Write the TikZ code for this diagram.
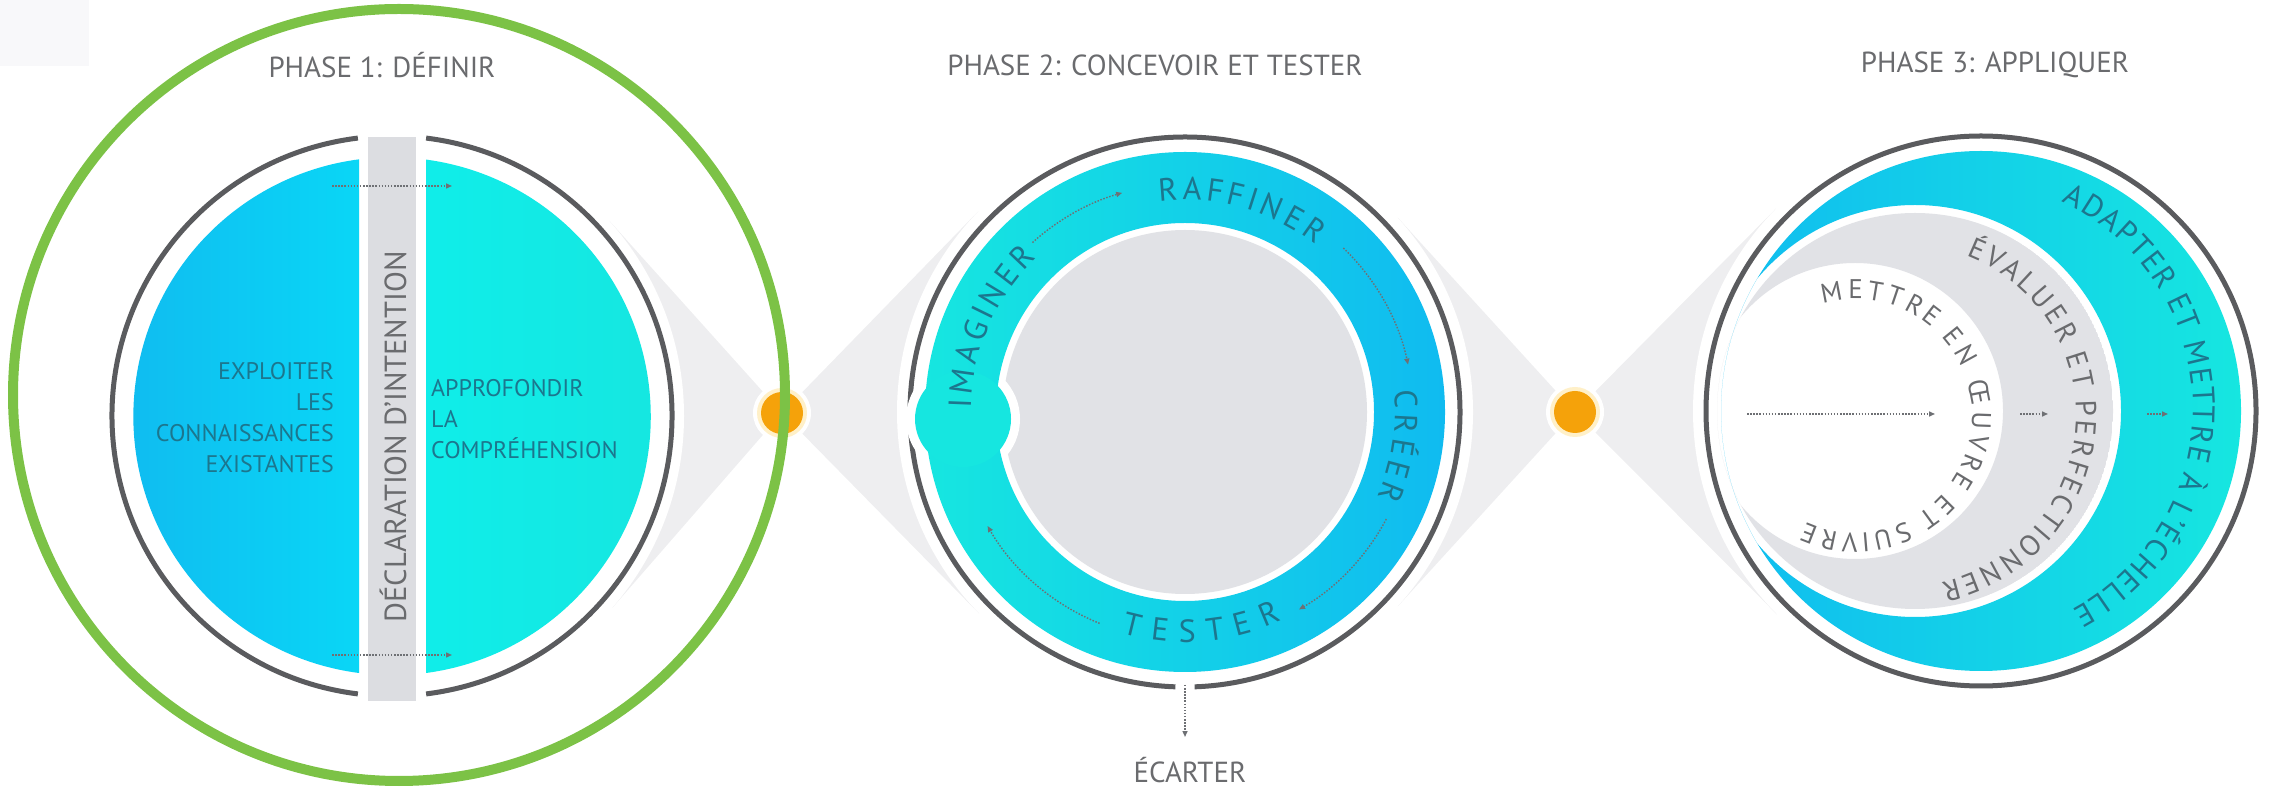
\documentclass[tikz,border=0pt]{standalone}
\usepackage{fontspec}
\setmainfont{PT Sans}
\usetikzlibrary{calc,arrows.meta,decorations.text}
\definecolor{ringgray}{RGB}{90,91,94}
\definecolor{stripgray}{RGB}{220,221,225}
\definecolor{discgray}{RGB}{225,226,230}
\definecolor{wedgegray}{RGB}{238,238,240}
\definecolor{boxgray}{RGB}{248,248,250}
\definecolor{titlegray}{RGB}{106,107,110}
\definecolor{arrowgray}{RGB}{110,112,116}
\definecolor{textteal}{RGB}{28,118,142}
\definecolor{cyanblue}{RGB}{16,187,240}
\definecolor{cyanturq}{RGB}{22,230,224}
\definecolor{dotorange}{RGB}{245,162,10}
\definecolor{dothalo}{RGB}{255,240,200}
\definecolor{framegreen}{RGB}{124,194,70}
\newcommand\titlefont{\fontsize{29}{34}\selectfont}
\newcommand\bandfont{\fontsize{32}{37}\selectfont}

\begin{document}
\begin{tikzpicture}[x=1pt,y=1pt,
    ring/.style={draw=ringgray,line width=5pt},
    dotarrow/.style={draw=arrowgray,line width=1.4pt,dash pattern=on 1.5pt off 1.6pt,
      -{Triangle[length=6pt,width=5pt]}},
    title/.style={text=titlegray,font=\titlefont,inner sep=0pt},
    bandtext/.style n args={3}{font=#1,decorate,decoration={text effects along path,text={#3},
      text effects/.cd,text along path,fit text to path,characters={text=#2,font=#1}}}]
    \useasboundingbox (0,0) rectangle (2272,787);
    % centres of the three phases and of the two orange dots
    \coordinate (c1) at (392,371);
    \coordinate (c2) at (1185,375);
    \coordinate (c3) at (1981,376);
    \coordinate (d1) at (782,374);
    \coordinate (d2) at (1575,375);

    \fill[boxgray] (0,721) rectangle (89,787);

    % white discs behind the rings, as nodes for the tangents
    \foreach \c/\r in {c1/292,c2/288,c3/288}
        \node[circle,minimum size={2*\r pt},inner sep=0pt] (w\c) at (\c) {};
    % grey cones from the dots
    \foreach \d/\c in {d1/c1,d1/c2,d2/c2,d2/c3}
        \fill[wedgegray] (\d) -- (tangent cs:node=w\c,point={(\d)},solution=1)
            -- (tangent cs:node=w\c,point={(\d)},solution=2) -- cycle;
    \foreach \c/\r in {c1/292,c2/288,c3/288}
        \fill[white] (\c) circle (\r);
    \foreach \d in {d1,d2}{
        \fill[white] (\d) circle (29);
        \fill[dothalo] (\d) circle (25);
        \fill[dotorange] (\d) circle (21);
    }

    % Phase 1
    \shade[left color=cyanblue,right color=cyanblue!60!cyan] ($(c1)+(-33,0)$) -- ($(c1)+(-33,-257)$)
        arc (-97.4:-262.6:259) -- cycle;
    \shade[left color=cyanturq!70!cyan,right color=cyanturq] ($(c1)+(34,0)$) -- ($(c1)+(34,-257)$)
        arc (-82.4:82.4:259) -- cycle;
    \draw[ring] ($(c1)+(83:280)$) arc (83:-83:280);
    \draw[ring] ($(c1)+(97:280)$) arc (97:263:280);
    \fill[stripgray] ($(c1)+(-24,-285)$) rectangle ($(c1)+(24,279)$);
    \node[rotate=90,text=titlegray,font=\fontsize{30.5}{35}\selectfont] (decl)
        at ($(c1)+(1,-21)$) {DÉCLARATION D’INTENTION};
    \node[anchor=east,align=right,text=textteal,inner sep=0pt,font=\fontsize{24}{31}\selectfont] (exploit)
        at ($(c1)+(-58,-2)$) {EXPLOITER\\LES\\CONNAISSANCES\\EXISTANTES};
    \node[anchor=west,align=left,text=textteal,inner sep=0pt,font=\fontsize{24}{31}\selectfont] (approf)
        at ($(c1)+(39,-3)$) {APPROFONDIR\\LA\\COMPRÉHENSION};
    \draw[dotarrow] ($(c1)+(-60,230)$) -- ($(c1)+(60,230)$);
    \draw[dotarrow] ($(c1)+(-60,-239)$) -- ($(c1)+(60,-239)$);
    \node[title] (t1) at (382,722) {PHASE 1: DÉFINIR};

    % Phase 2
    \coordinate (bub) at ($(c2)+(-222,-7)$);
    \draw[ring] ($(c2)+(-88:275)$) arc (-88:268:275);
    \fill[discgray] (c2) circle (182);
    \fill[white] (bub) circle (57);
    \shade[even odd rule,left color=cyanturq,right color=cyanblue] (c2) circle (260) (c2) circle (189);
    \fill[cyanturq] (bub) circle (48);
    \path[bandtext={\bandfont}{textteal}{IMAGINER}] ($(c2)+(179:214)$) arc (179:134:214);
    \path[bandtext={\bandfont}{textteal}{RAFFINER}] ($(c2)+(97:212)$) arc (97:52:212);
    \path[bandtext={\bandfont}{textteal}{CRÉER}] ($(c2)+(6:210)$) arc (6:-24:210);
    \path[bandtext={\bandfont}{textteal}{TESTER}] ($(c2)+(-106:230)$) arc (-106:-65:230);
    \draw[dotarrow] ($(c2)+(132:228)$) arc (132:106:228);
    \draw[dotarrow] ($(c2)+(46:228)$) arc (46:12:228);
    \draw[dotarrow] ($(c2)+(-28:228)$) arc (-28:-60:228);
    \draw[dotarrow] ($(c2)+(-112:228)$) arc (-112:-150:228);
    \node[title] (t2) at (1155,722) {PHASE 2: CONCEVOIR ET TESTER};
    \coordinate (gap2) at ($(c2)+(0,-273)$);
    \node[title] (ecarter) at (1190,17) {ÉCARTER};
    \draw[dotarrow,shorten >=20pt] (gap2) -- (gap2 |- ecarter.north);

    % Phase 3
    \draw[ring] (c3) circle (275);
    \begin{scope}
        \clip (c3) circle (260);
        \shade[even odd rule,left color=cyanblue,right color=cyanturq] (c3) circle (260) ($(c3)+(-66,0)$) circle (206);
    \end{scope}
    \begin{scope}
        \clip ($(c3)+(-66,0)$) circle (198);
        \fill[even odd rule,discgray] ($(c3)+(-66,0)$) circle (198) ($(c3)+(-126,0)$) circle (148);
    \end{scope}
    \path[bandtext={\fontsize{31}{35}\selectfont}{textteal}{ADAPTER ET METTRE À L’ÉCHELLE}]
        ($(c3)+(-16,3)+(65:228)$) arc (65:-62:228);
    \path[bandtext={\fontsize{29}{33}\selectfont}{titlegray}{ÉVALUER ET PERFECTIONNER}]
        ($(c3)+(-76,-4)+(69:171)$) arc (69:-78:171);
    \path[bandtext={\fontsize{27}{31}\selectfont}{titlegray}{METTRE EN ŒUVRE ET SUIVRE}]
        ($(c3)+(-126,-5)+(106:117)$) arc (106:-115:117);
    \draw[dotarrow] (1747,373) -- (1935,373);
    \draw[dotarrow] (2020,373) -- (2048,373);
    \draw[dotarrow] (2147,373) -- (2168,373);
    \node[title] (t3) at (1995,722) {PHASE 3: APPLIQUER};

    % green frame round phase 1
    \draw[framegreen,line width=10pt] (399,392) circle (386);
\end{tikzpicture}
\end{document}
